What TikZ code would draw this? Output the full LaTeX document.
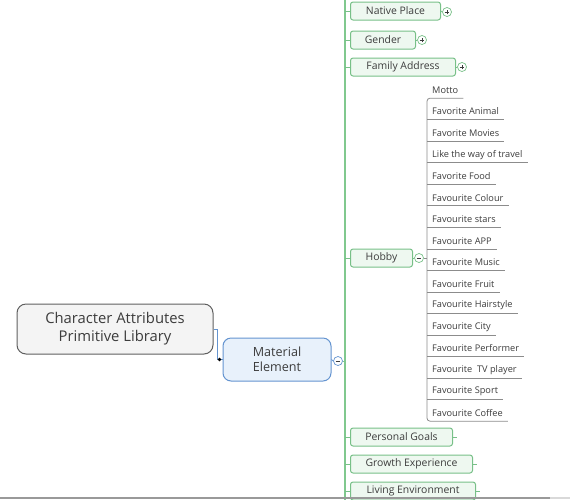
\documentclass[tikz,border=0pt]{standalone}
\usepackage{fontspec}
\setmainfont{Open Sans}
\definecolor{txt}{RGB}{60,60,60}
\definecolor{hubgreen}{RGB}{128,200,142}
\definecolor{topicline}{RGB}{120,192,136}
\definecolor{topicfill}{RGB}{238,248,240}
\definecolor{rootline}{RGB}{95,95,95}
\definecolor{rootfill}{RGB}{244,244,244}
\definecolor{matline}{RGB}{100,148,208}
\definecolor{matfill}{RGB}{232,241,251}
\definecolor{subgray}{RGB}{140,140,140}
\begin{document}
\begin{tikzpicture}[x=1pt,y=-1pt,
  rootbox/.style={draw=rootline, fill=rootfill, line width=1pt, rounded corners=9pt,
    minimum width=196pt, minimum height=50pt, align=center, text=txt,
    font=\fontsize{14.8}{18}\selectfont},
  matbox/.style={draw=matline, fill=matfill, line width=1pt, rounded corners=8pt,
    minimum width=108pt, minimum height=43pt, align=center, text=txt,
    font=\fontsize{12.6}{15.5}\selectfont},
  topic/.style={draw=topicline, fill=topicfill, line width=1pt, rounded corners=2.5pt,
    minimum height=18pt, inner sep=0pt, anchor=west, text=txt,
    font=\fontsize{10.4}{12}\selectfont},
  sublbl/.style={anchor=west, inner xsep=5pt, inner ysep=0pt, minimum height=16pt,
    text=txt, font=\fontsize{9.2}{11}\selectfont},
  subline/.style={draw=subgray, line width=0.8pt},
  hubline/.style={draw=hubgreen, line width=1.8pt},
  twig/.style={draw=topicline, line width=1pt},
  togglebase/.style={circle, draw=#1, fill=white, line width=0.7pt,
    minimum size=9pt, inner sep=0pt},
  minustog/.style={togglebase=#1, path picture={
    \draw[txt, line width=0.9pt] ([xshift=-2.4pt]path picture bounding box.center)
      -- ([xshift=2.4pt]path picture bounding box.center);}},
  plustog/.style={togglebase=#1, path picture={
    \draw[txt, line width=0.9pt] ([xshift=-2.4pt]path picture bounding box.center)
      -- ([xshift=2.4pt]path picture bounding box.center);
    \draw[txt, line width=0.9pt] ([yshift=-2.4pt]path picture bounding box.center)
      -- ([yshift=2.4pt]path picture bounding box.center);}}
]
\useasboundingbox (0,0) rectangle (570,499);
\clip (0,0) rectangle (570,499);

% central topic and the main branch
\node[rootbox] (root) at (115,329) {Character Attributes\\Primitive Library};
\node[matbox] (mat) at (277,359.5) {Material\\Element};
\draw[matline, line width=1pt] (root.east) -- ++(4,0) |- (mat.west);
\fill[black] ([xshift=-3pt]mat.west) circle (1.8pt);
\node[minustog=matline] (matc) at (338,361) {};
\draw[matline, line width=0.8pt] (mat.east) -- (matc.west);

% green spine carrying the attribute topics
\coordinate (hubtop) at (345,-5);
\coordinate (hubbot) at (345,505);
\draw[hubline] (hubtop) -- (hubbot);
\draw[hubline, line width=1pt] (matc.east) -- (matc.east -| hubtop);

% attribute topics
\node[topic, minimum width=90pt]  (native) at (350,11)  {Native Place};
\node[topic, minimum width=65pt]  (gender) at (350,40)  {Gender};
\node[topic, minimum width=105pt] (family) at (350,67)  {Family Address};
\node[topic, minimum width=62pt]  (hobby)  at (350,258) {Hobby};
\node[topic, minimum width=102pt] (goals)  at (350,437) {Personal Goals};
\node[topic, minimum width=122pt] (growth) at (350,464) {Growth Experience};
\node[topic, minimum width=125pt] (living) at (350,491) {Living Environment};

\foreach \t in {native,gender,family,hobby,goals,growth,living}
  \draw[twig] (\t.west -| hubtop) -- (\t.west);

% expand / collapse markers
\node[plustog=topicline] (nativec) at (447,12) {};
\node[plustog=topicline] (genderc) at (422,40) {};
\node[plustog=topicline] (familyc) at (462,67) {};
\node[minustog=topicline] (hobbyc) at (419,258) {};
\foreach \t in {native,gender,family,hobby}
  \draw[twig, line width=0.7pt] (\t.east) -- (\t c.west);
\foreach \t in {goals,growth,living}
  \draw[twig] (\t.east) -- ++(4,0);

% hobby sub-items
\foreach \i/\lbl in {0/Motto, 1/Favorite Animal, 2/Favorite Movies,
    3/Like the way of travel, 4/Favorite Food, 5/Favourite Colour,
    6/Favourite stars, 7/Favourite APP, 8/Favourite Music, 9/Favourite Fruit,
    10/Favourite Hairstyle, 11/Favourite City, 12/Favourite Performer,
    13/Favourite\ \ TV player, 14/Favourite Sport, 15/Favourite Coffee}
  \node[sublbl] (s\i) at (427,{90+21.53*\i}) {\lbl};

\draw[subline, rounded corners=3pt] (s0.south east) -- (s0.south west)
  -- (s15.south west) -- (s15.south east);
\foreach \i in {1,...,14}
  \draw[subline] (s\i.south west) -- (s\i.south east);
\draw[subline] (hobbyc.east) -- (hobbyc.east -| s0.south west);

% window edge at the bottom
\draw[gray!80, line width=2pt] (0,498) -- (550,498);
\draw[gray!30, line width=2pt] (550,498) -- (570,498);
\end{tikzpicture}
\end{document}
